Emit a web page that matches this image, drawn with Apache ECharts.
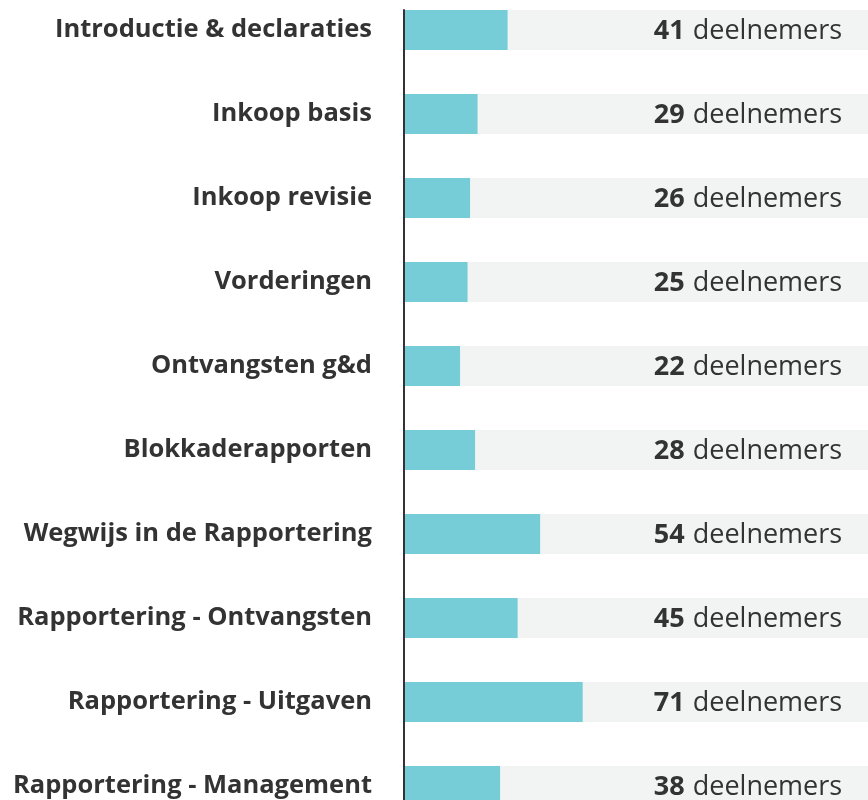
<!DOCTYPE html>
<html>
<head>
<meta charset="utf-8">
<script src="https://cdn.jsdelivr.net/npm/echarts@6/dist/echarts.min.js"></script>
<style>
  html, body { margin: 0; padding: 0; background: #fff; }
  #main { width: 868px; height: 800px; }
</style>
</head>
<body>
<div id="main"></div>
<script>
const categories = [
  'Introductie & declaraties',
  'Inkoop basis',
  'Inkoop revisie',
  'Vorderingen',
  'Ontvangsten g&d',
  'Blokkaderapporten',
  'Wegwijs in de Rapportering',
  'Rapportering - Ontvangsten',
  'Rapportering - Uitgaven',
  'Rapportering - Management'
]
const deelnemers = [41, 29, 26, 25, 22, 28, 54, 45, 71, 38]

let chart = echarts.init(document.getElementById('main'))
chart.setOption({
  animation: false,
  grid: [
    // boundaryGap false: first/last category sit on the grid edges
    { left: 405, right: 0, top: 30, bottom: 14 },
    // only for the dark axis line, starts at the first bar
    { left: 404, width: 1, top: 10, bottom: 0 }
  ],
  xAxis: [
    { type: 'value', min: 0, max: 185, show: false },
    { type: 'value', gridIndex: 1, show: false }
  ],
  yAxis: [
    {
      type: 'category',
      data: categories,
      inverse: true,
      boundaryGap: false,
      axisLine: { show: false },
      axisTick: { show: false },
      axisLabel: {
        color: '#333333',
        fontFamily: 'Open Sans',
        fontWeight: 'bold',
        fontSize: 25.5,
        margin: 33
      }
    },
    {
      type: 'value',
      gridIndex: 1,
      axisLine: { show: true, lineStyle: { color: '#333333', width: 2 } },
      axisTick: { show: false },
      axisLabel: { show: false },
      splitLine: { show: false }
    }
  ],
  series: [
    {
      type: 'bar',
      data: deelnemers,
      barWidth: 40,
      showBackground: true,
      backgroundStyle: { color: '#F2F4F4' },
      itemStyle: { color: '#76CDD8' },
      label: {
        show: true,
        position: [343, 21],
        align: 'center',
        verticalAlign: 'middle',
        formatter: '{b|{c}}{n|deelnemers}',
        rich: {
          b: { fontFamily: 'Open Sans', fontWeight: 'bold', fontSize: 27, color: '#333333', padding: [0, 8, 0, 0] },
          n: { fontFamily: 'Open Sans', fontSize: 27, color: '#333333' }
        }
      }
    }
  ]
})
</script>
</body>
</html>
